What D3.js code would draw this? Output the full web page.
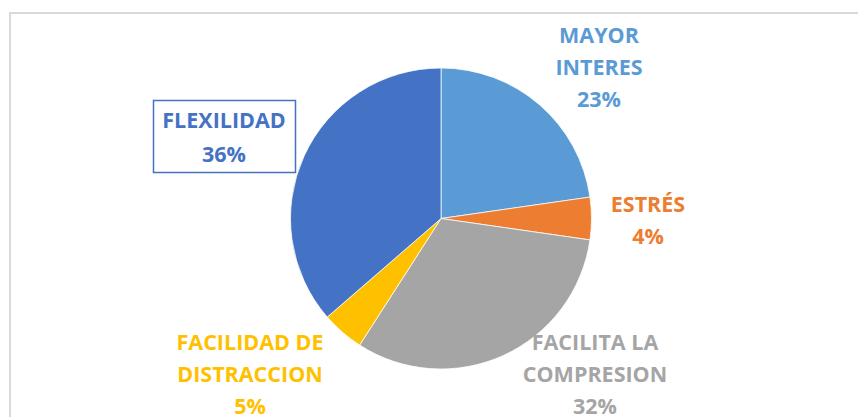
<!DOCTYPE html>
<html>
<head>
<meta charset="utf-8">
<script src="https://cdn.jsdelivr.net/npm/d3@7"></script>
<style>
  html, body { margin: 0; padding: 0; background: #fff; }
  svg { display: block; }
</style>
</head>
<body>
<svg id="chart" width="858" height="417"></svg>
<script>
// Data
const categories = ["MAYOR INTERES", "ESTRÉS", "FACILITA LA COMPRESION", "FACILIDAD DE DISTRACCION", "FLEXILIDAD"];
const values = [10, 2, 14, 2, 16];
const percentLabels = ["23%", "4%", "32%", "5%", "36%"];
const labelLines = [["MAYOR", "INTERES"], ["ESTRÉS"], ["FACILITA LA", "COMPRESION"], ["FACILIDAD DE", "DISTRACCION"], ["FLEXILIDAD"]];
const colors = ["#5B9BD5", "#ED7D31", "#A5A5A5", "#FFC000", "#4472C4"];

// Layout
const W = 858, H = 417;
const cx = 441, cy = 218.5, R = 150.5;
const labelPos = [
  {x: 599, y: 43},
  {x: 648, y: 212},
  {x: 595, y: 350},
  {x: 250, y: 350},
  {x: 224, y: 128}
];
const lineH = 32;

const svg = d3.select("#chart");

// chart area border
svg.append("rect")
  .attr("x", 10).attr("y", 13)
  .attr("width", W + 10).attr("height", H + 10)
  .attr("fill", "#fff")
  .attr("stroke", "#D9D9D9")
  .attr("stroke-width", 2);

const pie = d3.pie().sort(null).value(d => d).startAngle(0).endAngle(2 * Math.PI);
const arcs = pie(values);
const arc = d3.arc().innerRadius(0).outerRadius(R);
const color = d3.scaleOrdinal().domain(categories).range(colors);

const g = svg.append("g").attr("transform", `translate(${cx},${cy})`);
g.selectAll("path")
  .data(arcs)
  .join("path")
  .attr("d", arc)
  .attr("fill", (d, i) => color(categories[i]))
  .attr("stroke", "#fff")
  .attr("stroke-width", 0.75);

// Flexilidad label box
svg.append("rect")
  .attr("x", 153.5).attr("y", 100.5)
  .attr("width", 142).attr("height", 72)
  .attr("fill", "#fff")
  .attr("stroke", colors[4])
  .attr("stroke-width", 1.5);

// Labels
categories.forEach((c, i) => {
  const lines = labelLines[i].concat([percentLabels[i]]);
  const t = svg.append("text")
    .attr("text-anchor", "middle")
    .attr("font-family", "'Open Sans', sans-serif")
    .attr("font-weight", 700)
    .attr("font-size", 21.5)
    .attr("fill", color(c));
  lines.forEach((ln, k) => {
    t.append("tspan")
      .attr("x", labelPos[i].x)
      .attr("y", labelPos[i].y + k * (i === 4 ? 34 : lineH))
      .text(ln);
  });
});
</script>
</body>
</html>
